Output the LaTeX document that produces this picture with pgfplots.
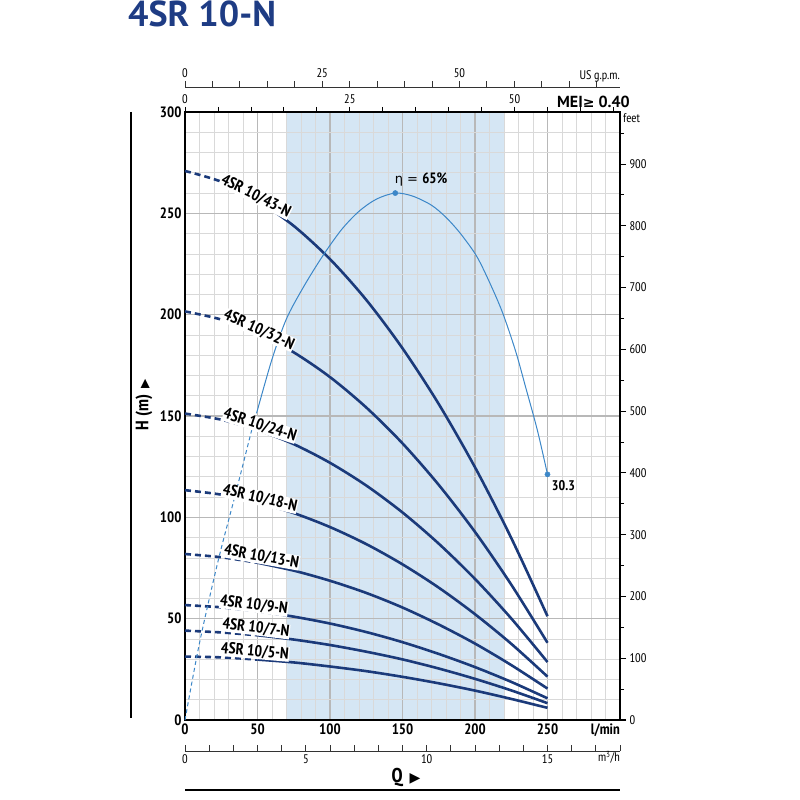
\documentclass[border=0pt]{standalone}
\usepackage{pgfplots}
\pgfplotsset{compat=1.18}
\usepackage{fontspec}
\IfFontExistsTF{PT Sans Narrow}{\setmainfont{PT Sans Narrow}}{\setmainfont{PT Sans}}
\newfontfamily\widefont{PT Sans}
\newfontfamily\dejavu{DejaVu Sans}
\definecolor{navy}{HTML}{1B3A7A}
\definecolor{effblue}{HTML}{3C87C8}
\definecolor{shade}{HTML}{D5E6F4}
\definecolor{titleblue}{HTML}{1E3C84}
\tikzset{clab/.style={fill=white, inner sep=0.5pt, font=\fontsize{16}{16}\selectfont\bfseries}}
\begin{document}
\begin{tikzpicture}
\path[use as bounding box] (0pt,0pt) rectangle (800pt,800pt);
\node[anchor=north west, font=\widefont\bfseries\fontsize{36}{36}\selectfont, text=titleblue, inner sep=0pt] at (128pt,799pt) {4SR 10-N};

% shaded band (drawn first, below the grid)
\begin{axis}[at={(185pt,80pt)}, anchor=south west, scale only axis,
  width=435pt, height=608pt, xmin=0, xmax=300, ymin=0, ymax=300, hide axis]
\addplot[fill=shade, draw=none] coordinates {(70,0) (70,300) (220,300) (220,0)} \closedcycle;
\end{axis}

% main axis
\begin{axis}[at={(185pt,80pt)}, anchor=south west, scale only axis,
  width=435pt, height=608pt, xmin=0, xmax=300, ymin=0, ymax=300,
  xtick={0,50,...,250}, ytick={0,50,...,300},
  minor xtick={10,20,...,290}, minor ytick={10,20,...,290},
  grid=both,
  major grid style={draw=black!28, line width=1.1pt},
  minor grid style={draw=black!15, line width=0.6pt},
  major tick length=0pt, minor tick length=0pt,
  axis line style={line width=1.6pt},
  ticklabel style={font=\fontsize{15}{15}\selectfont\bfseries},
  /pgf/number format/assume math mode=true,
  clip=false]
% 43
\addplot[navy, line width=2.6pt, dash pattern=on 6pt off 4pt, smooth] coordinates {(0,270.9)(25,265.6)(50,256.5)};
\addplot[navy, line width=2.6pt, smooth] coordinates {(50,256.5)(75,243.8)(100,227.4)(125,207.3)(150,183.4)(175,155.9)(200,124.7)(225,89.8)(250,51.2)};
% 32
\addplot[navy, line width=2.6pt, dash pattern=on 6pt off 4pt, smooth] coordinates {(0,201.6)(25,197.6)(50,190.9)};
\addplot[navy, line width=2.6pt, smooth] coordinates {(50,190.9)(75,181.4)(100,169.2)(125,154.2)(150,136.5)(175,116.0)(200,92.8)(225,66.8)(250,38.1)};
% 24
\addplot[navy, line width=2.6pt, dash pattern=on 6pt off 4pt, smooth] coordinates {(0,151.2)(25,148.2)(50,143.2)};
\addplot[navy, line width=2.6pt, smooth] coordinates {(50,143.2)(75,136.1)(100,126.9)(125,115.7)(150,102.4)(175,87.0)(200,69.6)(225,50.1)(250,28.6)};
% 18
\addplot[navy, line width=2.6pt, dash pattern=on 6pt off 4pt, smooth] coordinates {(0,113.4)(25,111.2)(50,107.4)};
\addplot[navy, line width=2.6pt, smooth] coordinates {(50,107.4)(75,102.1)(100,95.2)(125,86.8)(150,76.8)(175,65.3)(200,52.2)(225,37.6)(250,21.4)};
% 13
\addplot[navy, line width=2.6pt, dash pattern=on 6pt off 4pt, smooth] coordinates {(0,81.9)(25,80.3)(50,77.6)};
\addplot[navy, line width=2.6pt, smooth] coordinates {(50,77.6)(75,73.7)(100,68.7)(125,62.7)(150,55.5)(175,47.1)(200,37.7)(225,27.1)(250,15.5)};
% 9
\addplot[navy, line width=2.6pt, dash pattern=on 6pt off 4pt, smooth] coordinates {(0,56.7)(25,55.6)(50,53.7)};
\addplot[navy, line width=2.6pt, smooth] coordinates {(50,53.7)(75,51.0)(100,47.6)(125,43.4)(150,38.4)(175,32.6)(200,26.1)(225,18.8)(250,10.7)};
% 7
\addplot[navy, line width=2.6pt, dash pattern=on 6pt off 4pt, smooth] coordinates {(0,44.1)(25,43.2)(50,41.8)};
\addplot[navy, line width=2.6pt, smooth] coordinates {(50,41.8)(75,39.7)(100,37.0)(125,33.7)(150,29.9)(175,25.4)(200,20.3)(225,14.6)(250,8.3)};
% 5
\addplot[navy, line width=2.6pt, dash pattern=on 6pt off 4pt, smooth] coordinates {(0,31.3)(25,30.9)(50,29.8)};
\addplot[navy, line width=2.6pt, smooth] coordinates {(50,29.8)(75,28.4)(100,26.4)(125,24.1)(150,21.3)(175,18.1)(200,14.5)(225,10.4)(250,6.0)};
% efficiency
\addplot[effblue, line width=1pt, dash pattern=on 4pt off 3pt, smooth] coordinates {(0,0)(10,38)(23,79)(35,112)(46,143)(50,153)};
\addplot[effblue, line width=1pt, smooth] coordinates {(50,153)(60,178)(70,198)(82,214)(95,229)(108,242)(120,251)(132,257)(145,260)(157,258.5)(170,254)(180,248)(190,240)(201,229)(210,216)(219,201)(228,182)(235,164)(243,143)(250,121.2)};
\addplot[only marks, mark=*, mark size=2.6pt, effblue] coordinates {(145,260)(250,121.2)};
% labels
\node[clab, rotate=-27] at (axis cs:48.9,258.5) {4SR 10/43-N};
\node[clab, rotate=-24] at (axis cs:51,192.4) {4SR 10/32-N};
\node[clab, rotate=-18] at (axis cs:51.7,145.5) {4SR 10/24-N};
\node[clab, rotate=-13] at (axis cs:51.7,109.4) {4SR 10/18-N};
\node[clab, rotate=-10] at (axis cs:52.8,80.6) {4SR 10/13-N};
\node[clab, rotate=-7.5] at (axis cs:47.5,56.7) {4SR 10/9-N};
\node[clab, rotate=-7] at (axis cs:48.9,45.4) {4SR 10/7-N};
\node[clab, rotate=-5] at (axis cs:48.2,33.8) {4SR 10/5-N};
\node[anchor=west, inner sep=0pt, font=\fontsize{15}{15}\selectfont] at (axis cs:144.6,266.9) {{\dejavu\fontsize{13}{13}\selectfont η = }\textbf{65\%}};
\node[inner sep=0pt, font=\fontsize{14}{14}\selectfont\bfseries] at (axis cs:261,115.9) {30.3};
\end{axis}

% feet axis
\begin{axis}[at={(185pt,80pt)}, anchor=south west, scale only axis,
  width=435pt, height=608pt, xmin=0, xmax=300, ymin=0, ymax=984.25,
  axis y line*=right, hide x axis,
  ytick={0,100,...,900}, minor ytick={50,150,...,950},
  tick align=outside, major tick length=6pt, minor tick length=4pt,
  tick style={line width=1pt, black},
  axis line style={line width=1.6pt},
  yticklabel style={font=\fontsize{12.5}{12.5}\selectfont},
  /pgf/number format/assume math mode=true]
\addplot[draw=none] coordinates {(0,0)(300,984)};
\end{axis}

% imperial gpm axis on top
\begin{axis}[at={(185pt,80pt)}, anchor=south west, scale only axis,
  width=435pt, height=608pt, xmin=0, xmax=65.99, ymin=0, ymax=1,
  axis x line*=top, hide y axis,
  xtick={0,25,50}, minor xtick={5,10,...,65},
  tick align=outside, major tick length=5pt, minor tick length=5pt,
  tick style={line width=0.8pt, black},
  axis line style={line width=1.6pt},
  xticklabel style={font=\fontsize{12.5}{12.5}\selectfont},
  /pgf/number format/assume math mode=true]
\addplot[draw=none] coordinates {(0,0)(60,1)};
\end{axis}

% US gpm axis
\begin{axis}[at={(185pt,711.5pt)}, anchor=south west, scale only axis,
  width=435pt, height=1pt, xmin=0, xmax=79.25, ymin=0, ymax=1,
  axis x line*=top, hide y axis,
  xtick={0,25,50}, minor xtick={5,10,...,75},
  tick align=outside, major tick length=6pt, minor tick length=6pt,
  tick style={line width=0.8pt, black!80},
  axis line style={line width=0.9pt, black!80},
  xticklabel style={font=\fontsize{12.5}{12.5}\selectfont},
  /pgf/number format/assume math mode=true]
\addplot[draw=none] coordinates {(0,0)(70,1)};
\end{axis}

% m3/h axis
\begin{axis}[at={(185pt,49pt)}, anchor=south west, scale only axis,
  width=435pt, height=1pt, xmin=0, xmax=18, ymin=0, ymax=1,
  axis x line*=bottom, hide y axis,
  xtick={0,5,10,15}, minor xtick={1,2,...,18},
  tick align=inside, major tick length=6pt, minor tick length=6pt,
  tick style={line width=0.8pt, black!80},
  axis line style={line width=0.9pt, black!80},
  xticklabel style={font=\fontsize{12.5}{12.5}\selectfont},
  /pgf/number format/assume math mode=true]
\addplot[draw=none] coordinates {(0,0)(17,1)};
\end{axis}

% extra labels and lines
\node[anchor=base east, inner sep=0pt, font=\fontsize{15}{15}\selectfont\bfseries] at (620pt,65pt) {l/min};
\node[anchor=west, inner sep=0pt, font=\fontsize{12.5}{12.5}\selectfont] at (623pt,682pt) {feet};
\node[anchor=base east, inner sep=0pt, font=\widefont\bfseries\fontsize{16}{16}\selectfont] at (630pt,692pt) {MEI{\dejavu\bfseries\fontsize{14}{14}\selectfont ≥} 0.40};
\node[anchor=base east, inner sep=0pt, font=\fontsize{12.5}{12.5}\selectfont] at (620pt,720pt) {US g.p.m.};
\node[anchor=base east, inner sep=0pt, font=\fontsize{12.5}{12.5}\selectfont] at (620pt,38pt) {m\textsuperscript{3}/h};
\node[inner sep=0pt, font=\fontsize{20}{20}\selectfont\bfseries] at (406pt,23pt) {Q\hspace{7pt}{\dejavu\fontsize{14}{14}\selectfont ▶}};
\node[rotate=90, inner sep=0pt, font=\fontsize{18}{18}\selectfont\bfseries] at (144pt,395pt) {H (m)\hspace{6pt}{\dejavu\fontsize{12}{12}\selectfont ▶}};
\draw[line width=2.2pt] (185pt,10pt) -- (620pt,10pt);
\draw[line width=2.2pt] (131pt,688pt) -- (131pt,82pt);
\end{tikzpicture}
\end{document}
